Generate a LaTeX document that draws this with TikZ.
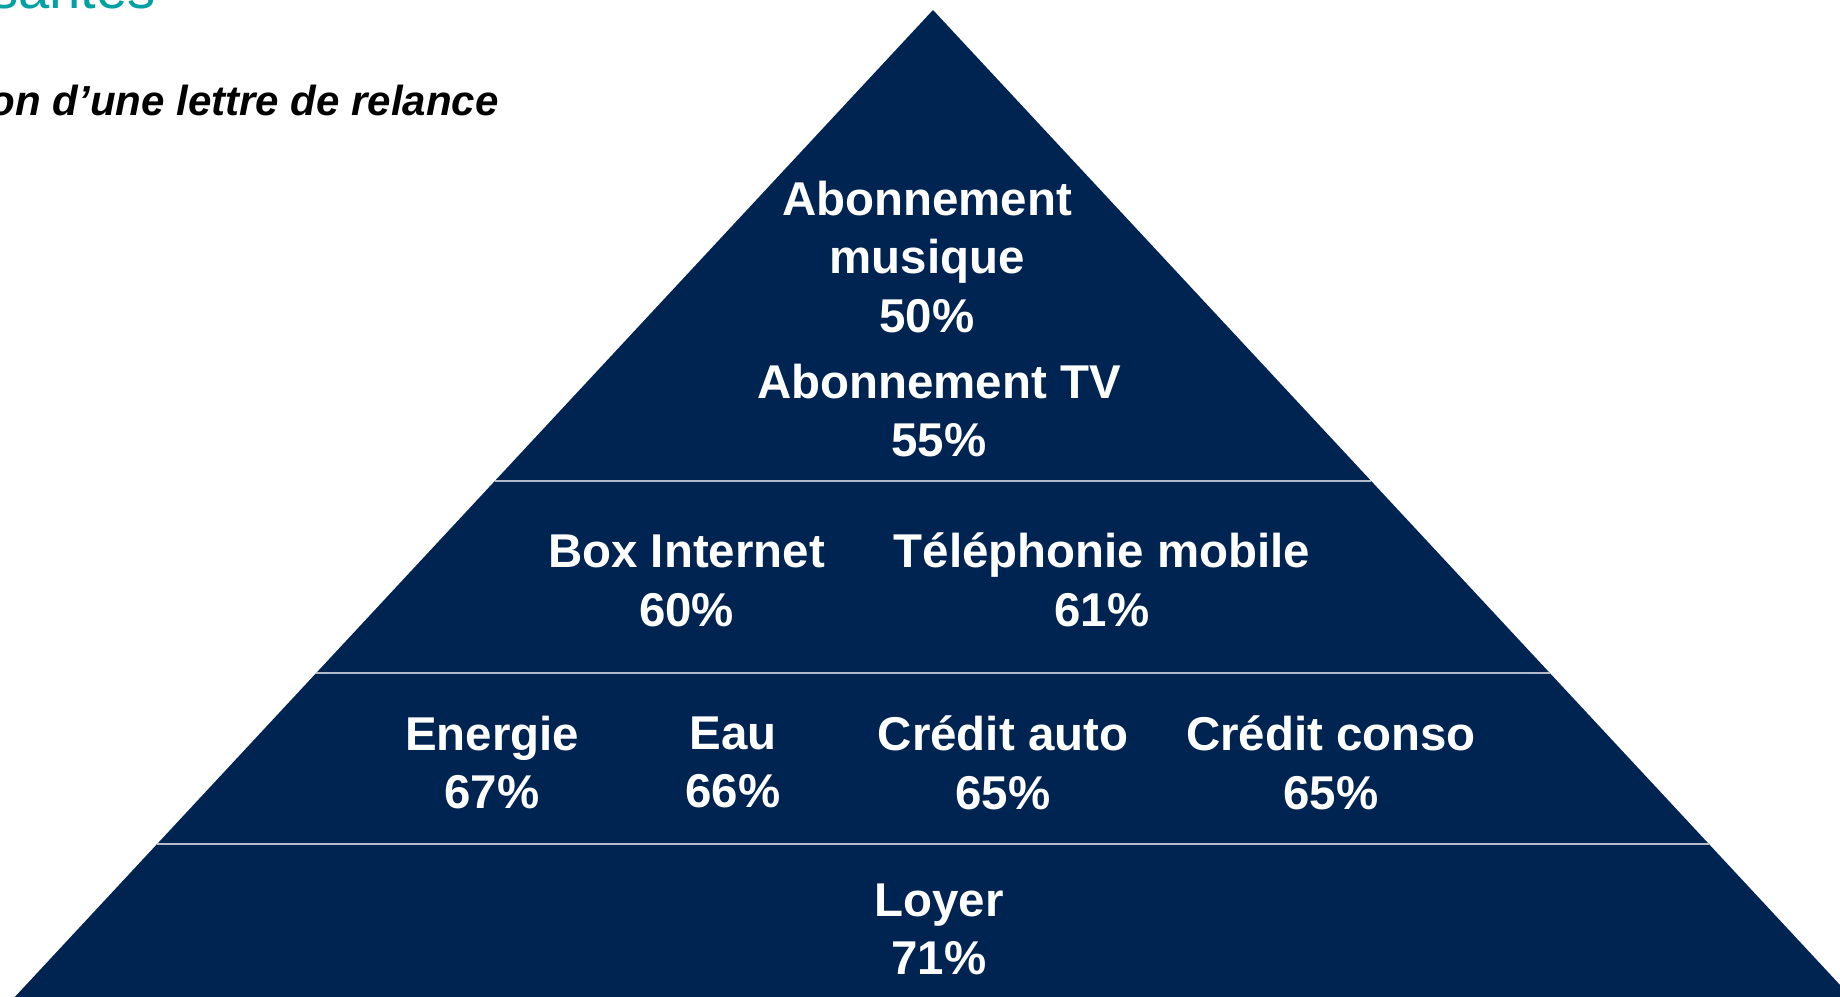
\documentclass[tikz,border=0pt]{standalone}
\usepackage{fontspec}
\setmainfont{Liberation Sans}
\usetikzlibrary{calc}
\definecolor{pyrblue}{RGB}{0,36,82}
\definecolor{pyrline}{RGB}{180,188,203}
\definecolor{pyrteal}{RGB}{0,160,163}
\newcommand{\ph}{990}
\newcommand{\tier}[2]{
  \coordinate (#2-l) at ($(apex)!{(#1-10)/\ph}!(base-l)$);
  \coordinate (#2-r) at ($(apex)!{(#1-10)/\ph}!(base-r)$);
  \draw [tierline] (#2-l) -- (#2-r);
}
\newcommand{\ptext}[3]{
  \node [pyrtext] (#2) at #1 {#3};
}
\tikzset{
  pyrtext/.style={text=white,align=center,inner sep=0pt,
    font=\fontsize{27}{33.4}\selectfont\bfseries},
  tierline/.style={pyrline,line width=0.85pt},
  headtext/.style={anchor=base east,inner sep=0pt}
}

\begin{document}
\begin{tikzpicture}[x=0.02cm,y=-0.02cm]
  \useasboundingbox (0,0) rectangle (1840,997);
  \clip (0,0) rectangle (1840,997);

  % slide headings, cut by the page
  \node [headtext,text=pyrteal,font=\fontsize{32}{38}\selectfont] (title) at (156,8.5) {santes};
  \node [headtext,font=\fontsize{23.9}{29}\selectfont\bfseries\itshape] (subtitle) at (499,116) {on d’une lettre de relance};

  % pyramid
  \coordinate (apex) at (933,10);
  \coordinate (base-l) at (12,1000);
  \coordinate (base-r) at (1854,1000);
  \fill [pyrblue] (apex) -- (base-l) -- (base-r) -- cycle;

  \tier{481}{t1}
  \tier{673}{t2}
  \tier{844}{t3}

  \ptext{(927,257)}{musique}{Abonnement\\musique\\50\%}
  \ptext{(939,410.5)}{tv}{Abonnement TV\\55\%}
  \ptext{(686.5,581)}{box}{Box Internet\\60\%}
  \ptext{(1102,580)}{mobile}{Téléphonie mobile\\61\%}
  \ptext{(492,762.5)}{energie}{Energie\\67\%}
  \ptext{(733,762.5)}{eau}{Eau\\66\%}
  \ptext{(1003,762.5)}{auto}{Crédit auto\\65\%}
  \ptext{(1331,762.5)}{conso}{Crédit conso\\65\%}
  \ptext{(939,929.5)}{loyer}{Loyer\\71\%}

  \iffalse
  \draw[help lines] (0,0) grid[step=100] (1840,997);
  \fi
\end{tikzpicture}
\end{document}
